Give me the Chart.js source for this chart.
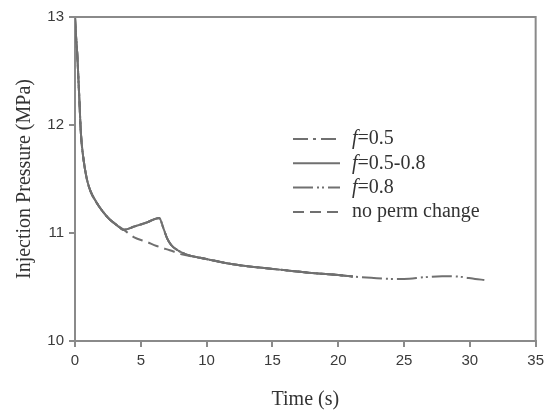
<!DOCTYPE html>
<html>
<head>
<meta charset="utf-8">
<script src="https://cdn.jsdelivr.net/npm/chart.js@4"></script>
<style>
  body { margin:0; background:#fff; }
  #graph { display:block; }
</style>
</head>
<body>
<canvas id="graph" width="549" height="417"></canvas>
<script>
/* ---- valeurs ---- */
const tDecay = [0, 0.04, 0.09, 0.17, 0.25, 0.33, 0.45, 0.65, 0.9, 1.2, 1.6, 2.1, 2.6, 3.1, 3.7];
const pDecay = [13.0, 12.9, 12.8, 12.66, 12.45, 12.24, 11.92, 11.68, 11.5, 11.38, 11.29, 11.2, 11.13, 11.08, 11.03];

/* f variable : bosse vers 6.4 s puis recolle */
const tBump = [4.5, 5.5, 6.4, 6.7, 7.0, 7.3, 7.8, 8.5, 9.5, 10.5, 12, 14, 16, 18, 20, 21.1];
const pBump = [11.06, 11.1, 11.14, 11.05, 10.95, 10.89, 10.84, 10.8, 10.77, 10.745, 10.71, 10.68, 10.655, 10.63, 10.61, 10.597];

/* sans changement de perméabilité */
const tFlat = [4.5, 5.4, 6.2, 7.2, 8.2, 9, 10, 12, 14, 16, 18, 20, 21.1];
const pFlat = [10.96, 10.92, 10.88, 10.84, 10.8, 10.78, 10.76, 10.71, 10.68, 10.655, 10.63, 10.61, 10.597];

/* queue f=0.8 après 21 s */
const tTail = [22.5, 24, 25, 26.5, 27.9, 29.2, 30.4, 31.1];
const pTail = [10.585, 10.575, 10.575, 10.59, 10.6, 10.595, 10.575, 10.565];

const xTicks = [0, 5, 10, 15, 20, 25, 30, 35];
const yTicks = [10, 11, 12, 13];

const pts = (ts, ps) => ts.map((t, i) => ({ x: t, y: ps[i] }));
const serie05   = pts([...tDecay, ...tBump], [...pDecay, ...pBump]);
const serie0508 = pts([...tDecay, ...tBump], [...pDecay, ...pBump]);
const serie08   = pts([...tDecay, ...tBump, ...tTail], [...pDecay, ...pBump, ...pTail]);
const serieNoPerm = pts([...tDecay, ...tFlat], [...pDecay, ...pFlat]);

const GRIS = '#707070';
const AXE = '#8a8a8a';
const ligne = (label, data, dash) => ({
  label, data, borderColor: GRIS, backgroundColor: GRIS, borderWidth: 2,
  borderDash: dash, pointRadius: 0, cubicInterpolationMode: 'monotone', fill: false,
});

/* cadre haut/droite */
const cadre = {
  id: 'cadre',
  afterDraw(chart){
    const { ctx, chartArea: a } = chart;
    ctx.save();
    ctx.strokeStyle = AXE; ctx.lineWidth = 2;
    ctx.beginPath();
    ctx.moveTo(a.left, a.top); ctx.lineTo(a.right, a.top); ctx.lineTo(a.right, a.bottom);
    ctx.stroke();
    ctx.restore();
  }
};

/* légende maison : "f" en italique */
const legende = {
  id: 'legende',
  afterDraw(chart, args, o){
    const ctx = chart.ctx;
    ctx.save();
    chart.data.datasets.forEach((ds, i) => {
      const y = o.y + i * o.pas;
      ctx.strokeStyle = ds.borderColor; ctx.lineWidth = 2;
      ctx.setLineDash(ds.borderDash || []);
      ctx.beginPath(); ctx.moveTo(o.x, y); ctx.lineTo(o.x + o.long, y); ctx.stroke();
      ctx.setLineDash([]);
      ctx.fillStyle = '#333'; ctx.textBaseline = 'middle'; ctx.textAlign = 'left';
      let tx = o.x + o.long + o.ecart;
      let reste = ds.label;
      if(reste.startsWith('f=')){
        ctx.font = 'italic 20px "Liberation Serif"';
        ctx.fillText('f', tx, y);
        tx += ctx.measureText('f').width;
        reste = reste.slice(1);
      }
      ctx.font = '20px "Liberation Serif"';
      ctx.fillText(reste, tx, y);
    });
    ctx.restore();
  }
};

new Chart(document.getElementById('graph'), {
  type: 'line',
  data: { datasets: [
    ligne('f=0.5', serie05, [15, 5, 3, 5]),
    ligne('f=0.5-0.8', serie0508, []),
    ligne('f=0.8', serie08, [20, 4, 2, 3, 2, 4]),
    ligne('no perm change', serieNoPerm, [11, 6]),
  ]},
  options: {
    responsive: false, animation: false,
    layout: { padding: { top: 17, right: 12, left: 0, bottom: 0 } },
    plugins: {
      legend: { display: false }, tooltip: { enabled: false },
      legende: { x: 293, y: 139, pas: 24.3, long: 47, ecart: 12 },
    },
    scales: {
      x: {
        type: 'linear', min: 0, max: 35,
        afterFit: s => { s.height = 76; },
        afterBuildTicks: s => { s.ticks = xTicks.map(v => ({ value: v })); },
        grid: { drawOnChartArea: false, drawTicks: true, tickLength: 6, color: AXE, lineWidth: 2 },
        border: { display: true, color: AXE, width: 2 },
        ticks: { color: '#3a3a3a', padding: 5, font: { family: '"Liberation Sans"', size: 15 } },
        title: { display: true, text: 'Time (s)', color: '#333', padding: { top: 0, bottom: 5 },
                 font: { family: '"Liberation Serif"', size: 20 } },
      },
      y: {
        type: 'linear', min: 10, max: 13,
        afterFit: s => { s.width = 75; },
        afterBuildTicks: s => { s.ticks = yTicks.map(v => ({ value: v })); },
        grid: { drawOnChartArea: false, drawTicks: true, tickLength: 6, color: AXE, lineWidth: 2 },
        border: { display: true, color: AXE, width: 2 },
        ticks: { color: '#3a3a3a', padding: 5, font: { family: '"Liberation Sans"', size: 15 } },
        title: { display: true, text: 'Injection Pressure (MPa)', color: '#333', padding: { top: 13, bottom: 0 },
                 font: { family: '"Liberation Serif"', size: 20 } },
      },
    },
  },
  plugins: [cadre, legende],
});
</script>
</body>
</html>
